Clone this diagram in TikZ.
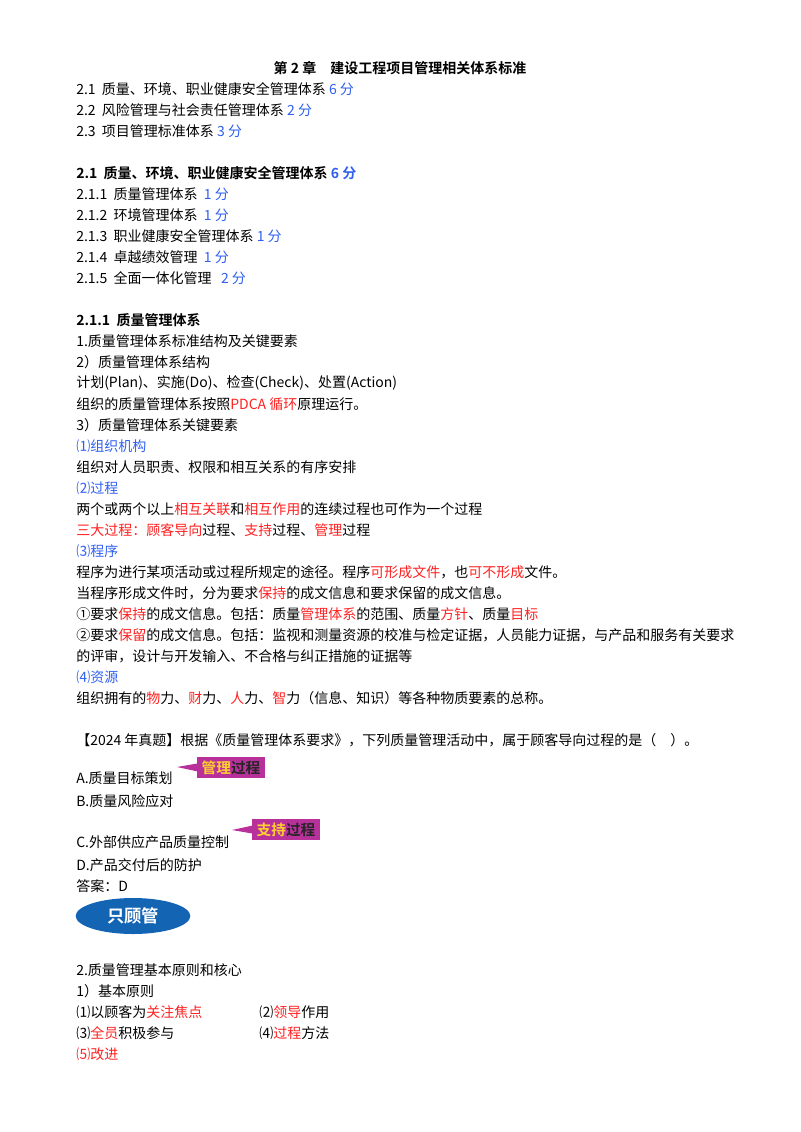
\documentclass[tikz,border=0pt]{standalone}
\usepackage{fontspec}
\usetikzlibrary{shapes.geometric}
\setmainfont{Noto Sans CJK SC}
\newfontfamily\bfcjk{Noto Sans CJK SC Bold}
\definecolor{rd}{HTML}{FF2020}
\definecolor{bl}{HTML}{3060F0}
\definecolor{mg}{HTML}{B8309A}
\definecolor{yl}{HTML}{FFD030}
\definecolor{ov}{HTML}{1464B4}
\newcommand{\R}[1]{\textcolor{rd}{#1}}
\newcommand{\B}[1]{\textcolor{bl}{#1}}
\tikzset{ln/.style={anchor=west,inner sep=0pt,font=\fontsize{10.5}{12}\selectfont},
hd/.style={ln,font=\fontsize{10.5}{12}\bfcjk}}
\begin{document}
\begin{tikzpicture}[x=0.75pt,y=-0.75pt]
\useasboundingbox (0,0) rectangle (800,1132);
\node[hd,anchor=center] (t) at (400,68) {第 2 章\quad 建设工程项目管理相关体系标准};
\node[ln] (a1) at (76,89) {2.1\ \ 质量、环境、职业健康安全管理体系 \B{6 分}};
\node[ln] (a2) at (76,110) {2.2\ \ 风险管理与社会责任管理体系 \B{2 分}};
\node[ln] (a3) at (76,131) {2.3\ \ 项目管理标准体系 \B{3 分}};
\node[hd] (b0) at (76,173) {2.1\ \ 质量、环境、职业健康安全管理体系 \B{6 分}};
\node[ln] (b1) at (76,194) {2.1.1\ \ 质量管理体系\ \ \B{1 分}};
\node[ln] (b2) at (76,215) {2.1.2\ \ 环境管理体系\ \ \B{1 分}};
\node[ln] (b3) at (76,236) {2.1.3\ \ 职业健康安全管理体系 \B{1 分}};
\node[ln] (b4) at (76,257) {2.1.4\ \ 卓越绩效管理\ \ \B{1 分}};
\node[ln] (b5) at (76,278) {2.1.5\ \ 全面一体化管理\ \ \ \B{2 分}};
\node[hd] (c0) at (76,320) {2.1.1\ \ 质量管理体系};
\node[ln] (c1) at (76,341) {1.质量管理体系标准结构及关键要素};
\node[ln] (c2) at (76,362) {2）质量管理体系结构};
\node[ln] (c3) at (76,383) {计划(Plan)、实施(Do)、检查(Check)、处置(Action)};
\node[ln] (c4) at (76,404) {组织的质量管理体系按照\R{PDCA 循环}原理运行。};
\node[ln] (c5) at (76,425) {3）质量管理体系关键要素};
\node[ln] (c6) at (76,446) {\B{⑴组织机构}};
\node[ln] (c7) at (76,467) {组织对人员职责、权限和相互关系的有序安排};
\node[ln] (c8) at (76,488) {\B{⑵过程}};
\node[ln] (c9) at (76,509) {两个或两个以上\R{相互关联}和\R{相互作用}的连续过程也可作为一个过程};
\node[ln] (c10) at (76,530) {\R{三大过程：顾客导向}过程、\R{支持}过程、\R{管理}过程};
\node[ln] (c11) at (76,551) {\B{⑶程序}};
\node[ln] (c12) at (76,572) {程序为进行某项活动或过程所规定的途径。程序\R{可形成文件}，也\R{可不形成}文件。};
\node[ln] (c13) at (76,593) {当程序形成文件时，分为要求\R{保持}的成文信息和要求保留的成文信息。};
\node[ln] (c14) at (76,614) {①要求\R{保持}的成文信息。包括：质量\R{管理体系}的范围、质量\R{方针}、质量\R{目标}};
\node[ln] (c15) at (76,635) {②要求\R{保留}的成文信息。包括：监视和测量资源的校准与检定证据，人员能力证据，与产品和服务有关要求};
\node[ln] (c16) at (76,656) {的评审，设计与开发输入、不合格与纠正措施的证据等};
\node[ln] (c17) at (76,677) {\B{⑷资源}};
\node[ln] (c18) at (76,698) {组织拥有的\R{物}力、\R{财}力、\R{人}力、\R{智}力（信息、知识）等各种物质要素的总称。};
\node[ln] (q) at (76,740) {【2024 年真题】根据《质量管理体系要求》，下列质量管理活动中，属于顾客导向过程的是（\quad ）。};
\node[ln] (qa) at (76,778) {A.质量目标策划};
\node[ln] (qb) at (76,801) {B.质量风险应对};
\node[ln] (qc) at (76,842) {C.外部供应产品质量控制};
\node[ln] (qd) at (76,865) {D.产品交付后的防护};
\node[ln] (ans) at (76,886) {答案：D};
% callouts
\fill[mg] (197,757) rectangle (265,778);
\fill[mg] (200,763) -- (177,767) -- (200,772) -- cycle;
\node[inner sep=0pt,font=\fontsize{11}{12}\bfcjk] (k1) at (231,767.5) {\textcolor{yl}{管理}\textcolor{black!85}{过程}};
\fill[mg] (252,819) rectangle (320,840);
\fill[mg] (255,825) -- (232,830) -- (255,834) -- cycle;
\node[inner sep=0pt,font=\fontsize{11}{12}\bfcjk] (k2) at (286,829.5) {\textcolor{yl}{支持}\textcolor{black!85}{过程}};
\node[ellipse,fill=ov,minimum width=86pt,minimum height=27pt,inner sep=0pt,text=white,font=\fontsize{13}{14}\bfcjk] (ovl) at (133,916) {只顾管};
\node[ln] (d1) at (76,970) {2.质量管理基本原则和核心};
\node[ln] (d2) at (76,991) {1）基本原则};
\node[ln] (d3) at (76,1012) {⑴以顾客为\R{关注焦点}};
\node[ln] (d4) at (259,1012) {⑵\R{领导}作用};
\node[ln] (d5) at (76,1033) {⑶\R{全员}积极参与};
\node[ln] (d6) at (259,1033) {⑷\R{过程}方法};
\node[ln] (d7) at (76,1054) {\R{⑸改进}};
\end{tikzpicture}
\end{document}
